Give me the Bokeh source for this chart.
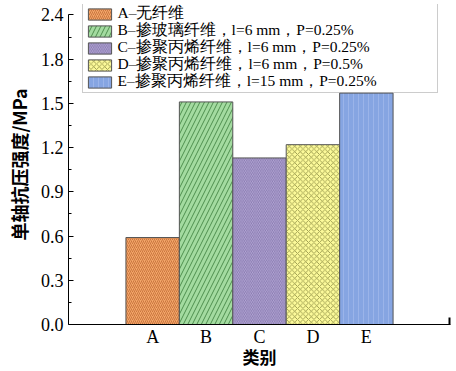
from bokeh.plotting import figure
from bokeh.models import ColumnDataSource, Range1d, FixedTicker, Legend, LegendItem, Label
from bokeh.embed import file_html
from bokeh.resources import INLINE

# ---- data ----
categories = ["A", "B", "C", "D", "E"]
strength = [0.59, 1.51, 1.13, 1.22, 1.57]
legend_labels = [
    "A–无纤维",
    "B–掺玻璃纤维，l=6 mm，P=0.25%",
    "C–掺聚丙烯纤维，l=6 mm，P=0.25%",
    "D–掺聚丙烯纤维，l=6 mm，P=0.5%",
    "E–掺聚丙烯纤维，l=15 mm，P=0.25%",
]
y_ticks = [0.0, 0.3, 0.6, 0.9, 1.2, 1.5, 1.8, 2.1]
y_tick_labels = ["0.0", "0.3", "0.6", "0.9", "1.2", "1.5", "1.8", "2.4"]
y_minor_ticks = [0.15, 0.45, 0.75, 1.05, 1.35, 1.65, 1.95]
x_title = "类别"
y_title = "单轴抗压强度/MPa"

# ---- style ----
fills = ["#F3A669", "#A3DBA0", "#B7AAD8", "#FCFA9A", "#86A5E2"]
hatch_colors = ["#C06A35", "#4E8E4E", "#7E70A6", "#8A8A40", "#9DB6EA"]
hatches = ["/", "/", "\\", "x", "|"]
hatch_scales = [4, 9, 3.5, 5.5, 5]
hatch_weights = [0.8, 1, 0.8, 0.8, 0.9]

SERIF = "Liberation Serif"
CJK = "Noto Sans CJK SC"

positions = list(range(1, len(categories) + 1))
x_start, x_end = -0.575, 6.575
y_axis_top = 2.1
y_view_top = 2.171

p = figure(width=456, height=371, output_backend="svg", toolbar_location=None,
           x_range=Range1d(x_start, x_end), y_range=Range1d(0, y_view_top),
           min_border_left=68, min_border_right=6, min_border_top=4, min_border_bottom=46)
p.outline_line_color = None
p.xgrid.visible = False
p.ygrid.visible = False
p.background_fill_color = "white"
p.border_fill_color = "white"

items = []
for i, (xpos, v) in enumerate(zip(positions, strength)):
    src = ColumnDataSource(dict(x=[xpos], top=[v]))
    r = p.vbar(x="x", top="top", bottom=0, width=1.0, source=src,
               fill_color=fills[i], line_color="#555555", line_width=1,
               hatch_pattern=hatches[i], hatch_color=hatch_colors[i],
               hatch_scale=hatch_scales[i], hatch_weight=hatch_weights[i])
    items.append(LegendItem(label=" ", renderers=[r]))

# legend box: swatches from the Legend, texts as labels aligned to its rows
row_h, pad = 17, 2
leg_top = 320.5          # px above frame bottom
leg_left = 14            # px right of frame left
glyph_w, standoff = 29, 3
text_lift = 3
leg_h = len(items) * row_h + 2 * pad
leg_bottom = int(leg_top - leg_h)
legend = Legend(items=items, location=(leg_left, leg_bottom),
                orientation="vertical",
                label_text_font=SERIF, label_text_font_size="15px",
                label_standoff=standoff, glyph_width=glyph_w, glyph_height=14,
                label_height=row_h, label_width=318,
                spacing=0, padding=pad, margin=0,
                border_line_color="#999999", border_line_width=1,
                background_fill_alpha=0)
p.add_layout(legend, "center")

for i, txt in enumerate(legend_labels):
    p.add_layout(Label(x=leg_left + pad + glyph_w + standoff + 1,
                       y=leg_bottom + leg_h - pad - row_h * (i + 0.5) + text_lift,
                       x_units="screen", y_units="screen", text=txt,
                       text_font=SERIF, text_font_size="15.5px", text_color="black",
                       text_align="left", text_baseline="middle"))

# y axis
ya = p.yaxis[0]
ya.bounds = (0, y_axis_top)
ya.ticker = FixedTicker(ticks=y_ticks, minor_ticks=y_minor_ticks)
ya.major_label_overrides = {t: s for t, s in zip(y_ticks, y_tick_labels)}
ya.major_tick_in = 5
ya.major_tick_out = 0
ya.minor_tick_in = 3
ya.minor_tick_out = 0
ya.axis_line_color = "black"
ya.major_tick_line_color = "black"
ya.minor_tick_line_color = "black"
ya.major_label_text_font = SERIF
ya.major_label_text_font_size = "18px"
ya.major_label_text_color = "black"
ya.major_label_standoff = 5
ya.axis_label = y_title
ya.axis_label_text_font = CJK
ya.axis_label_text_font_style = "bold"
ya.axis_label_text_font_size = "18px"
ya.axis_label_text_color = "black"
ya.axis_label_standoff = 6

# x axis
xa = p.xaxis[0]
xa.ticker = FixedTicker(ticks=positions, minor_ticks=[x_end - 0.01])
xa.major_label_overrides = {x: c for x, c in zip(positions, categories)}
xa.major_tick_line_color = None
xa.major_tick_in = 0
xa.major_tick_out = 0
xa.minor_tick_in = 7
xa.minor_tick_out = 0
xa.minor_tick_line_color = "black"
xa.minor_tick_line_width = 2
xa.axis_line_color = "black"
xa.major_label_text_font = SERIF
xa.major_label_text_font_size = "18px"
xa.major_label_text_color = "black"
xa.major_label_standoff = 2
xa.axis_label = x_title
xa.axis_label_text_font = CJK
xa.axis_label_text_font_style = "bold"
xa.axis_label_text_font_size = "17px"
xa.axis_label_text_color = "black"
xa.axis_label_standoff = -6

open("out.html", "w").write(file_html(p, INLINE))
